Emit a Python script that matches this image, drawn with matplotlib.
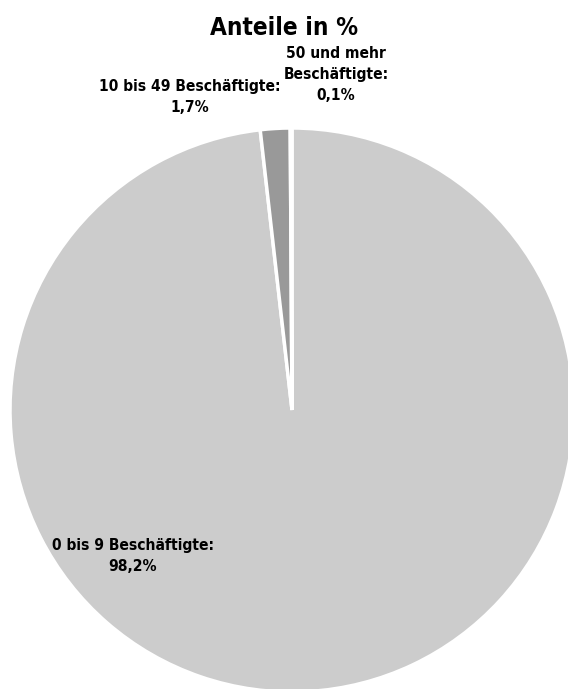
import matplotlib
matplotlib.use('Agg')
import matplotlib.pyplot as plt

# share of businesses by number of employees
labels = ['0 bis 9 Beschäftigte:', '10 bis 49 Beschäftigte:', '50 und mehr\nBeschäftigte:']
shares = [98.2, 1.7, 0.1]
colors = ['#cccccc', '#999999', '#b3b3b3']

W, H = 568, 689
fig = plt.figure(figsize=(W / 100, H / 100), dpi=100)
ax = fig.add_axes([0, 0, 1, 1])

# pie is bigger than the canvas, clipped on the right and bottom
ax.pie(shares, colors=colors, startangle=90, counterclock=False,
       center=(292, H - 410), radius=282,
       wedgeprops=dict(edgecolor='white', linewidth=2.5))
ax.set_xlim(0, W)
ax.set_ylim(0, H)
ax.set_aspect('equal')
ax.axis('off')

font = dict(family='DejaVu Sans', fontweight='bold', fontstretch='condensed')

fig.text(0.5, 1 - 35 / H, 'Anteile in %', ha='center', va='baseline',
         fontsize=17.5, **font)

def pct(v):
    return f'{v:.1f}'.replace('.', ',') + '%'

label_pos = [(133, 556), (190, 97), (336, 74)]
for lab, v, (x, y) in zip(labels, shares, label_pos):
    ax.text(x, H - y, lab + '\n' + pct(v), ha='center', va='center',
            fontsize=11.2, linespacing=1.5, **font)

fig.savefig('out.png', dpi=100)
